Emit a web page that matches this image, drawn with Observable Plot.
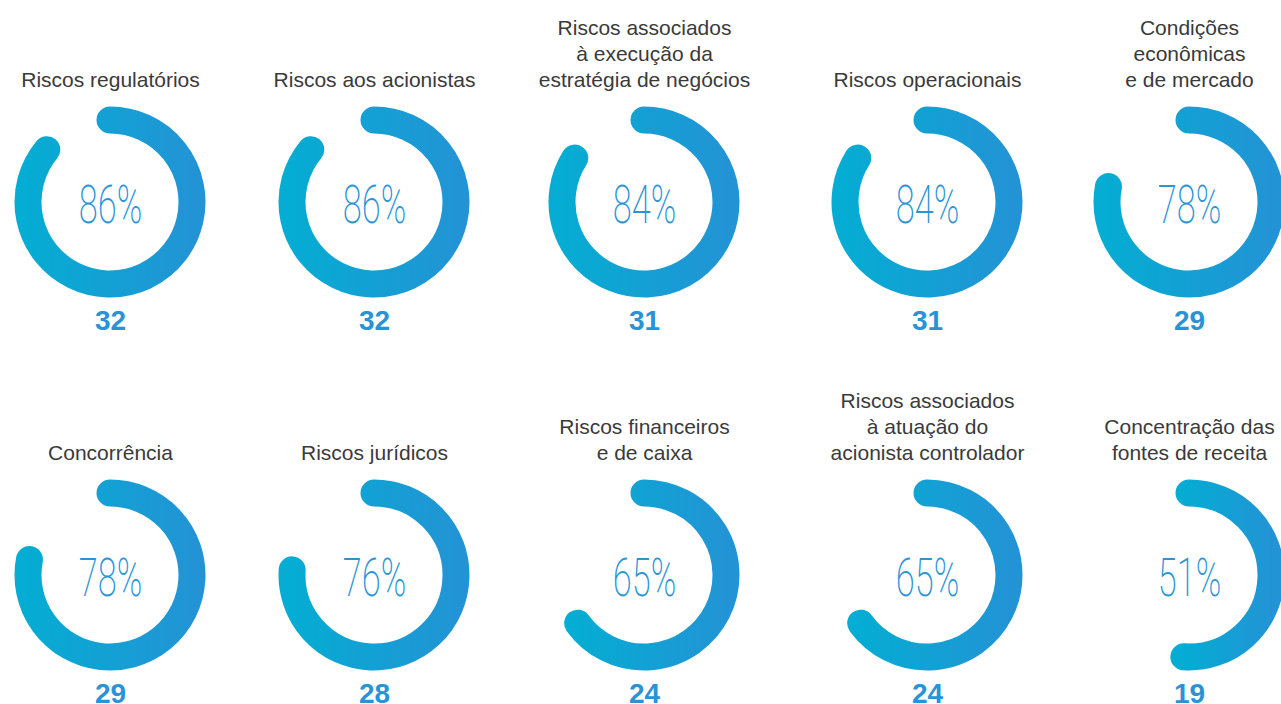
<!DOCTYPE html>
<html><head><meta charset="utf-8">
<script src="https://cdn.jsdelivr.net/npm/d3@7"></script>
<script src="https://cdn.jsdelivr.net/npm/@observablehq/plot@0.6"></script>
<style>html,body{margin:0;padding:0;background:#fff;overflow:hidden}</style>
</head><body><div id="chart"></div>
<script>
const labels = [
  "Riscos regulatórios",
  "Riscos aos acionistas",
  "Riscos associados\nà execução da\nestratégia de negócios",
  "Riscos operacionais",
  "Condições\neconômicas\ne de mercado",
  "Concorrência",
  "Riscos jurídicos",
  "Riscos financeiros\ne de caixa",
  "Riscos associados\nà atuação do\nacionista controlador",
  "Concentração das\nfontes de receita"
];
const percents = [86, 86, 84, 84, 78, 78, 76, 65, 65, 51];
const counts = [32, 32, 31, 31, 29, 29, 28, 24, 24, 19];
const columns = [0, 1, 2, 3, 4];
const rows = [0, 1];

const data = labels.map((label, i) => ({
  label, pct: percents[i], count: counts[i],
  col: columns[i % columns.length], row: rows[Math.floor(i / columns.length)]
}));

const RING_R = 82, RING_W = 27;

function ringMark(data, options) {
  return Plot.dot(data, {
    ...options,
    render: (index, scales, values) => {
      const g = d3.create("svg:g");
      const grad = g.append("defs").append("linearGradient")
        .attr("id", "ringGrad").attr("x1", 0).attr("x2", 1).attr("y1", 0).attr("y2", 0);
      grad.append("stop").attr("offset", "0%").attr("stop-color", "#05acd3");
      grad.append("stop").attr("offset", "100%").attr("stop-color", "#2294d5");
      for (const i of index) {
        const p = d3.path();
        const a0 = -Math.PI / 2;
        const a1 = a0 + 2 * Math.PI * data[i].pct / 100;
        p.arc(values.x[i], values.y[i], RING_R, a0, a1);
        g.append("path").attr("d", p.toString())
          .attr("fill", "none").attr("stroke", "url(#ringGrad)")
          .attr("stroke-width", RING_W).attr("stroke-linecap", "round");
      }
      return g.node();
    }
  });
}

const chart = Plot.plot({
  width: 1281, height: 704, margin: 0,
  style: {background: "#fff"},
  x: {type: "linear", domain: columns, range: [110, 374, 644, 927, 1189], axis: null},
  y: {type: "point", domain: rows, range: [202, 575], padding: 0, axis: null},
  marks: [
    ringMark(data, {x: "col", y: "row"}),
    Plot.text(data, {x: "col", y: "row", text: "label", dy: -116, lineAnchor: "bottom",
      fontSize: 21, lineHeight: 1.22, fill: "#3a3a3a", fontFamily: "Liberation Sans, Arial, sans-serif"}),
    Plot.text(data, {x: "col", y: "row", text: d => d.pct + "%", dy: 4,
      fontSize: 53, fontWeight: 200, fill: "#2a95d6", fontFamily: "Roboto, sans-serif"}),
    Plot.text(data, {x: "col", y: "row", text: d => String(d.count), dy: 127, lineAnchor: "bottom",
      fontSize: 28, fontWeight: "bold", fill: "#2a93d5", fontFamily: "Liberation Sans, Arial, sans-serif"})
  ]
});

d3.select(chart).selectAll("text").each(function () {
  if (this.textContent.endsWith("%")) {
    const t = this.getAttribute("transform") || "";
    this.setAttribute("transform", t + " scale(0.65,1)");
  }
});

document.getElementById("chart").appendChild(chart);
</script>
</body></html>
